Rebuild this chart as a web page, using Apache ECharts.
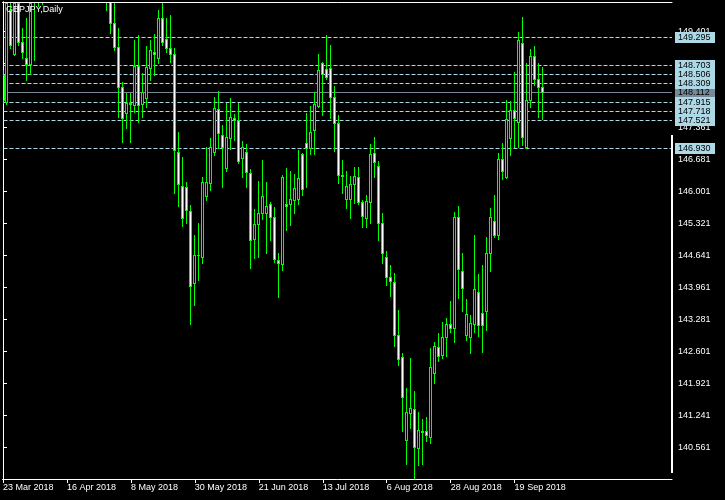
<!DOCTYPE html>
<html><head><meta charset="utf-8">
<script src="https://cdn.jsdelivr.net/npm/echarts@6/dist/echarts.min.js"></script>
<style>html,body{margin:0;padding:0;background:#000;}#c{width:725px;height:500px;}</style>
</head><body><div id="c"></div>
<script>
const title = 'GBPJPY,Daily';
const opens = [148.48,147.91,149.86,148.93,150.01,149.18,148.84,148.71,150.05,150.40,
150.90,150.30,151.00,151.65,151.40,152.20,152.60,153.30,153.20,152.80,
151.60,151.20,150.70,151.90,151.70,152.30,150.60,150.45,149.58,149.08,
148.22,147.67,147.89,147.84,148.67,147.86,147.99,148.63,148.98,148.84,
149.69,149.24,149.05,148.93,146.84,146.12,146.10,145.59,144.06,144.65,
144.61,145.91,146.19,146.84,147.76,147.20,146.50,147.14,147.57,147.52,
146.72,146.84,146.40,144.99,145.31,145.55,145.55,145.74,145.46,144.55,
144.46,145.74,145.74,145.82,145.85,146.80,147.04,146.93,147.31,147.82,
148.73,148.61,148.63,148.01,147.46,146.36,145.85,145.85,146.16,146.31,
145.78,145.44,145.78,146.82,146.55,145.34,144.61,144.19,144.08,142.96,
142.49,140.72,141.30,141.38,140.55,140.92,140.92,140.79,142.15,142.70,
142.53,142.91,143.19,143.10,145.46,144.32,142.96,142.91,143.19,143.87,
143.42,143.47,144.70,145.38,145.08,146.70,146.31,147.14,147.74,147.48,
149.16,146.95,147.95,148.88,148.39,148.22];
const closes = [147.95,150.01,149.12,150.01,149.18,148.97,148.71,150.01,150.50,150.90,
150.30,151.00,151.65,151.40,152.20,152.60,153.30,153.20,152.80,151.60,
151.20,150.70,151.90,151.70,152.30,150.60,150.45,149.58,149.08,148.22,
147.57,147.89,147.86,148.67,147.84,148.12,148.65,149.01,148.93,149.69,
149.18,149.05,148.93,146.88,146.16,145.44,145.61,144.00,144.65,144.66,
146.21,146.21,146.95,147.78,147.25,146.95,147.16,147.59,147.52,146.65,
146.95,146.42,144.97,145.31,145.55,145.91,145.70,145.46,144.57,144.49,
146.31,145.70,145.85,146.08,146.29,146.06,146.93,147.27,147.86,148.59,
148.50,148.44,148.01,147.46,146.36,146.33,146.12,146.16,146.33,145.78,
145.48,145.80,146.80,146.63,145.34,144.70,144.19,144.10,142.96,142.45,
141.64,141.32,141.40,140.58,140.94,140.90,140.83,142.28,142.72,142.51,
142.91,143.19,143.10,145.46,144.36,143.95,143.40,143.21,143.93,143.17,
143.17,144.70,145.46,145.08,146.70,146.44,147.55,147.74,147.57,149.22,
147.16,147.95,148.88,148.39,148.22,148.112];
const lows = [147.89,147.86,149.05,148.90,149.12,148.84,148.37,148.50,148.80,149.95,
149.98,150.20,150.80,151.10,151.30,151.90,152.40,152.70,152.40,151.40,
150.90,150.40,150.50,151.20,151.50,150.20,149.86,149.37,149.01,147.59,
147.06,147.35,147.06,147.69,147.48,147.59,147.80,148.37,148.48,148.73,
149.12,148.97,148.76,145.97,145.69,145.27,145.33,143.19,143.59,144.12,
144.49,145.82,146.04,146.78,146.93,146.10,146.45,146.90,147.10,146.61,
146.31,146.10,144.38,144.59,144.61,145.42,144.70,144.97,144.51,143.76,
144.34,145.19,145.29,145.55,145.74,145.93,146.10,146.80,146.80,147.80,
147.63,148.39,147.57,146.87,146.19,145.97,145.66,145.44,145.76,145.74,
145.25,145.25,145.34,146.31,144.97,144.49,144.02,143.78,142.72,142.32,
140.92,140.21,140.98,139.90,140.19,140.21,140.70,140.66,141.94,142.40,
142.47,142.51,143.02,142.81,143.75,143.47,142.85,142.57,143.02,142.93,
142.59,143.06,144.32,145.04,144.99,146.27,146.29,146.78,146.95,146.95,
146.99,146.93,147.80,148.27,147.59,147.55];
const highs = [148.59,150.30,150.15,150.30,150.20,149.48,149.69,150.25,150.70,151.20,
151.10,151.20,151.90,152.00,152.40,152.90,153.50,153.84,153.50,153.10,
151.90,151.50,152.10,152.30,152.50,152.40,151.00,150.60,150.01,149.48,
148.33,148.10,148.10,149.22,149.33,148.52,149.10,149.22,149.35,149.86,
150.01,149.69,149.75,149.05,147.27,146.74,146.21,145.72,145.08,145.34,
146.31,146.95,147.14,148.01,148.14,147.42,147.89,148.00,147.65,147.89,
147.07,147.01,146.48,145.63,146.23,146.67,146.21,145.78,145.68,144.70,
146.36,146.50,146.44,146.38,146.89,146.82,147.67,147.82,148.12,148.93,
148.76,149.33,149.12,148.25,147.63,146.67,146.44,146.33,146.53,146.53,
145.82,145.93,147.01,147.16,146.65,145.55,144.74,144.44,144.27,143.49,
142.57,141.83,142.47,141.77,141.32,141.17,141.21,142.68,142.81,143.00,
143.23,143.32,143.68,145.57,145.70,144.70,143.72,143.38,145.08,144.25,
144.44,145.04,145.66,145.93,146.82,147.04,147.95,147.93,148.54,149.39,
149.71,148.73,149.03,149.10,148.73,148.65];
const priceTicks = [140.561,141.241,141.921,142.601,143.281,143.961,144.641,145.321,146.001,146.681,147.361,148.041,148.721,149.401];
const gridLevels = [149.295,148.703,148.506,148.309,147.915,147.718,147.521,146.930];
const bidLevel = 148.112;
const dateTickIdx = [0,16,32,48,64,80,96,112,128];

const months = ['Jan','Feb','Mar','Apr','May','Jun','Jul','Aug','Sep','Oct','Nov','Dec'];
const dates = [];
(function(){
  const d = new Date(Date.UTC(2018, 2, 23));
  while (dates.length < opens.length) {
    const wd = d.getUTCDay();
    if (wd !== 0 && wd !== 6) dates.push(d.getUTCDate() + ' ' + months[d.getUTCMonth()] + ' ' + d.getUTCFullYear());
    d.setUTCDate(d.getUTCDate() + 1);
  }
})();

const GREEN = '#00ff00';
const FONT = 'Liberation Sans';
const candleData = opens.map((o, i) => [i, o, closes[i], lows[i], highs[i]]);
// bid level first so the other boxes are drawn over it
const levelData = [[0, bidLevel, 1]].concat(gridLevels.map(v => [0, v, 0]));

function innerBounds(cs) {
  return {L: cs.x + 1, R: cs.x + cs.width - 1, T: cs.y + 1, B: cs.y + cs.height - 1};
}

function renderCandle(params, api) {
  const b = innerBounds(params.coordSys);
  const i = api.value(0), o = api.value(1), c = api.value(2), lo = api.value(3), hi = api.value(4);
  const pO = api.coord([i, o]), pC = api.coord([i, c]), pL = api.coord([i, lo]), pH = api.coord([i, hi]);
  const cx = Math.floor(pO[0]);
  const yH = Math.round(pH[1]), yL = Math.round(pL[1]);
  const yT = Math.round(Math.min(pO[1], pC[1])), yB = Math.round(Math.max(pO[1], pC[1]));
  const kids = [];
  function box(x, y, w, h, fill) {
    const x1 = Math.max(x, b.L), x2 = Math.min(x + w, b.R + 1);
    const y1 = Math.max(y, b.T), y2 = Math.min(y + h, b.B + 1);
    if (x2 > x1 && y2 > y1) kids.push({type: 'rect', shape: {x: x1, y: y1, width: x2 - x1, height: y2 - y1}, style: {fill: fill}});
  }
  box(cx, yH, 1, yL - yH + 1, GREEN);
  box(cx - 1, yT, 3, yB - yT + 1, GREEN);
  if (yB - yT >= 2) box(cx, yT + 1, 1, yB - yT - 1, c < o ? '#ffffff' : '#000000');
  return {type: 'group', children: kids};
}

function renderLevel(params, api) {
  const b = innerBounds(params.coordSys);
  const v = api.value(1), isBid = api.value(2) === 1;
  const yr = Math.round(api.coord([0, v])[1]);
  const col = isBid ? '#778899' : '#add8e6';
  return {type: 'group', children: [
    {type: 'line', shape: {x1: b.L, y1: yr + 0.5, x2: b.R + 1, y2: yr + 0.5},
      style: {stroke: col, lineWidth: 1, lineDash: isBid ? null : [4, 2]}},
    {type: 'rect', shape: {x: b.R + 4, y: yr - 5, width: 40, height: 11}, style: {fill: col}},
    {type: 'text', x: b.R + 7, y: yr + 0.5,
      style: {text: v.toFixed(3), fill: '#000', fontSize: 9, fontFamily: FONT, verticalAlign: 'middle', align: 'left'}}
  ]};
}

const chart = echarts.init(document.getElementById('c'), null, {renderer: 'canvas'});
chart.setOption({
  backgroundColor: '#000',
  animation: false,
  title: {text: title, left: 6, top: 5, padding: 0,
    textStyle: {color: '#fff', fontSize: 9, fontWeight: 'normal', fontFamily: FONT}},
  grid: {left: 2, top: 2, width: 670, height: 477, show: false},
  xAxis: [{
    type: 'value', min: -0.125, max: 167.375,
    axisLine: {show: true, lineStyle: {color: '#fff', width: 1}},
    splitLine: {show: false},
    axisTick: {show: true, customValues: dateTickIdx, length: 4, lineStyle: {color: '#fff'}},
    axisLabel: {show: true, customValues: dateTickIdx, formatter: v => dates[Math.round(v)] || '',
      color: '#fff', fontSize: 9, fontFamily: FONT, align: 'left', margin: 3, lineHeight: 11}
  }, {
    type: 'value', position: 'top', min: -0.125, max: 167.375,
    axisLine: {show: true, lineStyle: {color: '#fff', width: 1}},
    splitLine: {show: false}, axisTick: {show: false}, axisLabel: {show: false}
  }],
  yAxis: [{
    type: 'value', position: 'right', min: 139.895, max: 150.032,
    axisLine: {show: true, lineStyle: {color: '#fff', width: 1}},
    splitLine: {show: false},
    axisTick: {show: true, customValues: priceTicks, length: 4, lineStyle: {color: '#fff'}},
    axisLabel: {show: true, customValues: priceTicks, formatter: v => Number(v).toFixed(3),
      color: '#fff', fontSize: 9, fontFamily: FONT, margin: 6}
  }, {
    type: 'value', position: 'left', min: 139.895, max: 150.032,
    axisLine: {show: true, lineStyle: {color: '#fff', width: 1}},
    splitLine: {show: false}, axisTick: {show: false}, axisLabel: {show: false}
  }],
  graphic: [{type: 'rect', shape: {x: 671, y: 135, width: 2, height: 338}, style: {fill: '#fff'}, z: 10}],
  series: [
    {
      type: 'custom', name: 'levels', data: levelData, encode: {x: 0, y: 1},
      xAxisIndex: 0, yAxisIndex: 0, clip: false, silent: true, z: 3,
      renderItem: renderLevel
    },
    {
      type: 'custom', name: 'GBPJPY', data: candleData, encode: {x: 0, y: [1, 2, 3, 4]},
      xAxisIndex: 0, yAxisIndex: 0, clip: false, silent: true, z: 4,
      renderItem: renderCandle
    }
  ]
});
</script></body></html>
